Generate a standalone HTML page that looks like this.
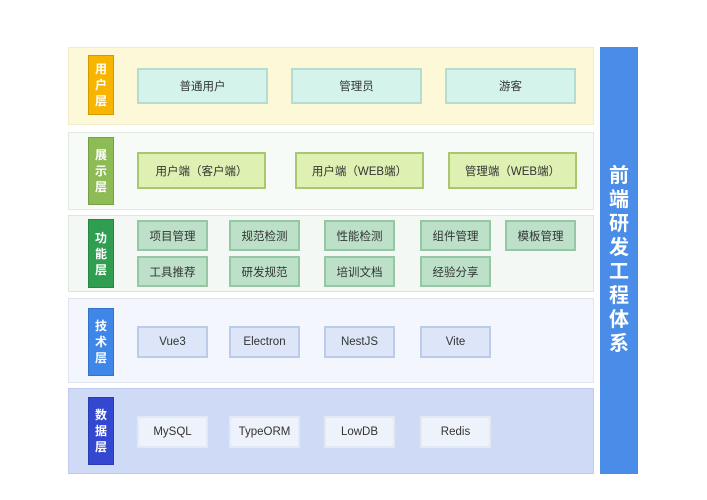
<!DOCTYPE html>
<html><head><meta charset="utf-8"><style>
body{margin:0;width:707px;height:500px;background:#fff;position:relative;overflow:hidden;font-family:"Liberation Sans","Noto Sans CJK SC",sans-serif;}
.p{position:absolute;left:68px;width:526px;box-sizing:border-box;border:1px solid #e3e6e3;}
.l{position:absolute;left:88px;width:26px;box-sizing:border-box;color:#fff;font-weight:bold;font-size:12px;line-height:16px;display:flex;flex-direction:column;align-items:center;justify-content:center;border:1px solid rgba(0,0,0,.15);}
.b{position:absolute;box-sizing:border-box;display:flex;align-items:center;justify-content:center;font-size:11.5px;color:#333;border:2px solid;}
</style></head><body>
<div class="p" style="top:47px;height:78px;background:#fdf8d8;border-color:#f2eccd"></div>
<div class="p" style="top:132px;height:78px;background:#f7fbf7;border-color:#e0ebe0"></div>
<div class="p" style="top:215px;height:77px;background:#f3f8f4;border-color:#dde6de"></div>
<div class="p" style="top:298px;height:85px;background:#f3f6fc;border-color:#dfe4ee"></div>
<div class="p" style="top:388px;height:86px;background:#cfdaf7;border-color:#bfcbea"></div>

<div class="l" style="top:55px;height:60px;background:#f7b500">用<br>户<br>层</div>
<div class="l" style="top:137px;height:68px;background:#8dbb55">展<br>示<br>层</div>
<div class="l" style="top:219px;height:69px;background:#2f9e50">功<br>能<br>层</div>
<div class="l" style="top:308px;height:68px;background:#3e86e8">技<br>术<br>层</div>
<div class="l" style="top:397px;height:68px;background:#3347d1">数<br>据<br>层</div>

<div style="position:absolute;left:600px;top:47px;width:38px;height:427px;background:#4a8de8;color:#fff;font-weight:bold;font-size:20px;line-height:24px;display:flex;flex-direction:column;align-items:center;padding-top:117px;box-sizing:border-box">前<br>端<br>研<br>发<br>工<br>程<br>体<br>系</div>

<div class="b" style="left:137px;top:68px;width:131px;height:36px;background:#d4f3ea;border-color:#b3ddd2">普通用户</div>
<div class="b" style="left:291px;top:68px;width:131px;height:36px;background:#d4f3ea;border-color:#b3ddd2">管理员</div>
<div class="b" style="left:445px;top:68px;width:131px;height:36px;background:#d4f3ea;border-color:#b3ddd2">游客</div>

<div class="b" style="left:137px;top:152px;width:129px;height:37px;background:#def0b2;border-color:#a9c670">用户端（客户端）</div>
<div class="b" style="left:295px;top:152px;width:129px;height:37px;background:#def0b2;border-color:#a9c670">用户端（WEB端）</div>
<div class="b" style="left:448px;top:152px;width:129px;height:37px;background:#def0b2;border-color:#a9c670">管理端（WEB端）</div>

<div class="b" style="left:137px;top:220px;width:71px;height:31px;background:#bde0c8;border-color:#95c7a5">项目管理</div>
<div class="b" style="left:229px;top:220px;width:71px;height:31px;background:#bde0c8;border-color:#95c7a5">规范检测</div>
<div class="b" style="left:324px;top:220px;width:71px;height:31px;background:#bde0c8;border-color:#95c7a5">性能检测</div>
<div class="b" style="left:420px;top:220px;width:71px;height:31px;background:#bde0c8;border-color:#95c7a5">组件管理</div>
<div class="b" style="left:505px;top:220px;width:71px;height:31px;background:#bde0c8;border-color:#95c7a5">模板管理</div>
<div class="b" style="left:137px;top:256px;width:71px;height:31px;background:#bde0c8;border-color:#95c7a5">工具推荐</div>
<div class="b" style="left:229px;top:256px;width:71px;height:31px;background:#bde0c8;border-color:#95c7a5">研发规范</div>
<div class="b" style="left:324px;top:256px;width:71px;height:31px;background:#bde0c8;border-color:#95c7a5">培训文档</div>
<div class="b" style="left:420px;top:256px;width:71px;height:31px;background:#bde0c8;border-color:#95c7a5">经验分享</div>

<div class="b" style="left:137px;top:326px;width:71px;height:32px;background:#dde6f8;border-color:#bccbe8">Vue3</div>
<div class="b" style="left:229px;top:326px;width:71px;height:32px;background:#dde6f8;border-color:#bccbe8">Electron</div>
<div class="b" style="left:324px;top:326px;width:71px;height:32px;background:#dde6f8;border-color:#bccbe8">NestJS</div>
<div class="b" style="left:420px;top:326px;width:71px;height:32px;background:#dde6f8;border-color:#bccbe8">Vite</div>

<div class="b" style="left:137px;top:416px;width:71px;height:32px;background:#eef2fb;border-color:#e2e8f6">MySQL</div>
<div class="b" style="left:229px;top:416px;width:71px;height:32px;background:#eef2fb;border-color:#e2e8f6">TypeORM</div>
<div class="b" style="left:324px;top:416px;width:71px;height:32px;background:#eef2fb;border-color:#e2e8f6">LowDB</div>
<div class="b" style="left:420px;top:416px;width:71px;height:32px;background:#eef2fb;border-color:#e2e8f6">Redis</div>
</body></html>
